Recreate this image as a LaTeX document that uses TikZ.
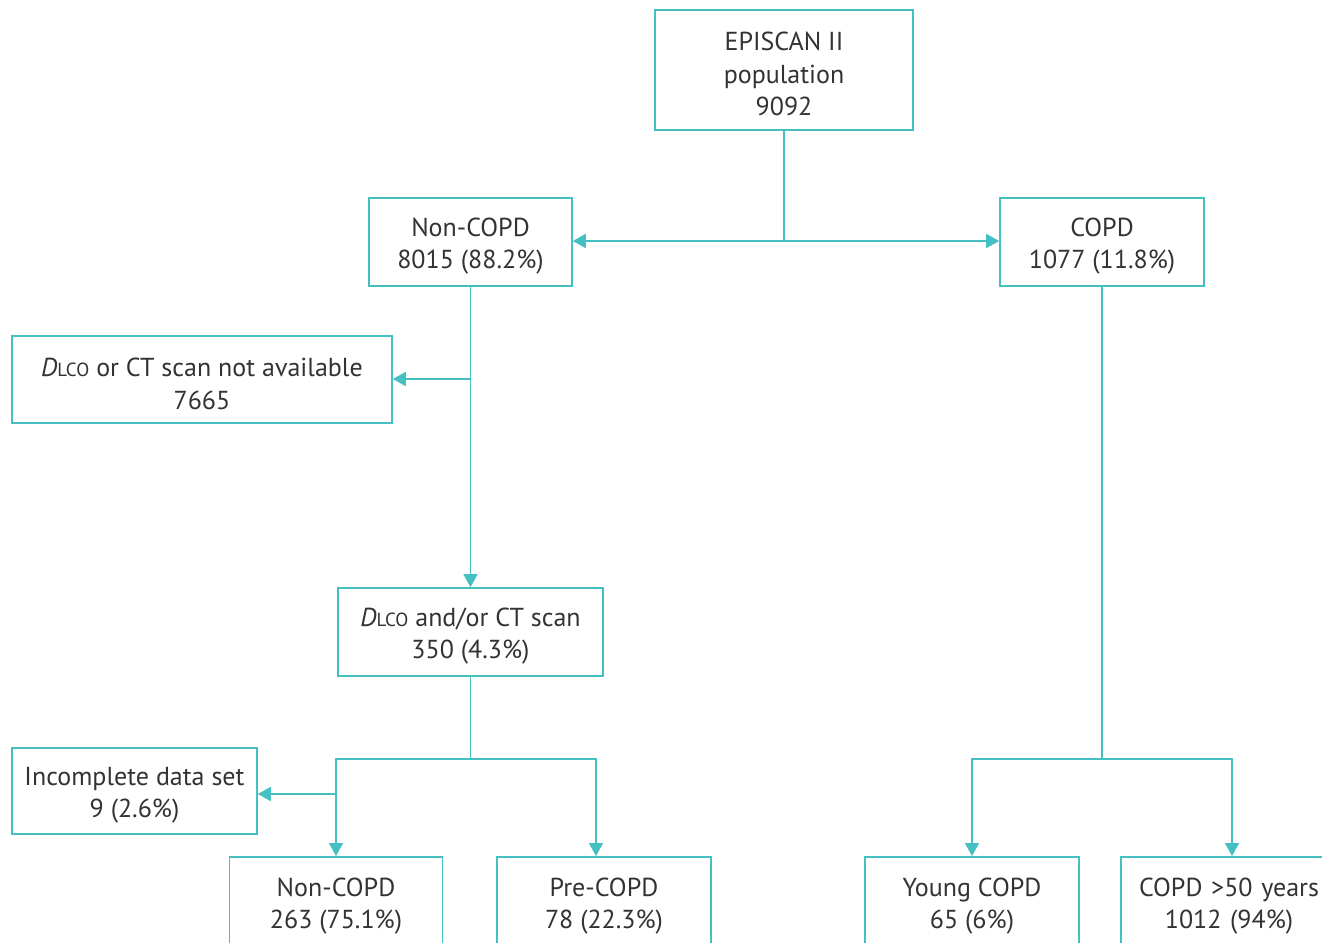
\documentclass[tikz,border=0pt]{standalone}
\usepackage{fontspec}
\setmainfont{PT Sans}
\usetikzlibrary{arrows.meta,calc}
\definecolor{teal1}{HTML}{45C0C2}
\definecolor{txt}{HTML}{333333}
\newcommand{\dlco}{\textit{D}{\fontsize{19}{19}\selectfont LCO}}
\newcommand{\tstrut}{\rule{0pt}{27pt}}
\begin{document}
\begin{tikzpicture}[x=1pt,y=-1pt,
  box/.style={draw=teal1,line width=1.6pt,fill=white,align=center,text=txt,inner sep=0pt,
    font=\fontsize{26}{32.5}\selectfont},
  conn/.style={draw=teal1,line width=1.6pt},
  arr/.style={conn,-{Triangle[length=13pt,width=14pt]}}]
\clip (0,0) rectangle (1322,942);
\fill[white] (0,0) rectangle (1322,942);
\node[box,minimum width=258pt,minimum height=120pt] (ep) at (784,70) {\tstrut EPISCAN II\\population\\9092};
\node[box,minimum width=203pt,minimum height=88pt] (nc) at (470.5,242) {\tstrut Non-COPD\\8015 (88.2\%)};
\node[box,minimum width=204pt,minimum height=88pt] (copd) at (1102,242) {\tstrut COPD\\1077 (11.8\%)};
\node[box,minimum width=380pt,minimum height=87pt] (na) at (202,379.5) {\tstrut\dlco{} or CT scan not available\\7665};
\node[box,minimum width=265pt,minimum height=88pt] (dl) at (470.5,632) {\tstrut\dlco{} and/or CT scan\\350 (4.3\%)};
\node[box,minimum width=245pt,minimum height=86pt] (inc) at (134.5,791) {\tstrut Incomplete data set\\9 (2.6\%)};
\node[box,minimum width=213pt,minimum height=90pt,anchor=north] (nc2) at (336,856) {\tstrut Non-COPD\\263 (75.1\%)};
\node[box,minimum width=214pt,minimum height=90pt,anchor=north] (pre) at (604,856) {\tstrut Pre-COPD\\78 (22.3\%)};
\node[box,minimum width=214pt,minimum height=90pt,anchor=north] (young) at (972,856) {\tstrut Young COPD\\65 (6\%)};
\node[box,minimum width=222pt,minimum height=90pt,anchor=north,text width=216pt] (old) at (1232,856) {\tstrut\hspace*{-6pt}COPD {>}50 years\\\hspace*{-6pt}1012 (94\%)};
% connectors
\coordinate (j1) at (ep.south |- 0,241);
\draw[conn] (ep.south) -- (j1);
\draw[arr] (j1) -- (j1 -| nc.east);
\draw[arr] (j1) -- (j1 -| copd.west);
\draw[arr] (nc.south) -- (dl.north);
\coordinate (j2) at (nc.south |- 0,379);
\draw[arr] (j2) -- (j2 -| na.east);
\coordinate (j3) at (dl.south |- 0,759);
\coordinate (p1) at (596,759);
\draw[conn] (dl.south) -- (j3);
\draw[arr] (j3) -| (nc2.north);
\draw[arr] (j3) -- (p1) -- (p1 |- pre.north);
\coordinate (j5) at (nc2.north |- 0,794);
\draw[arr] (j5) -- (j5 -| inc.east);
\coordinate (j4) at (copd.south |- 0,759);
\draw[conn] (copd.south) -- (j4);
\draw[arr] (j4) -| (young.north);
\draw[arr] (j4) -| (old.north);
\end{tikzpicture}
\end{document}
